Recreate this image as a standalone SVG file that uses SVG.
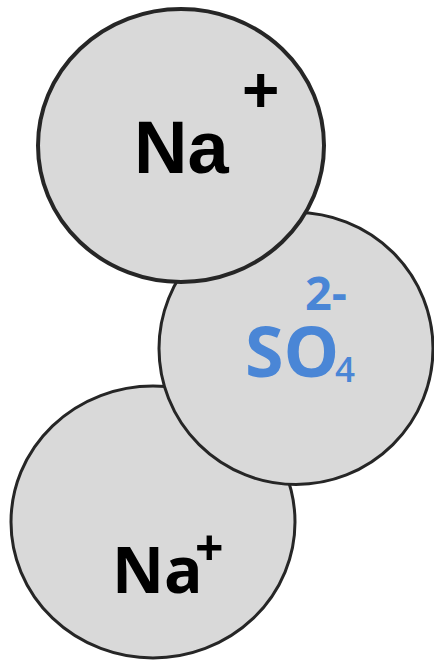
<svg xmlns="http://www.w3.org/2000/svg" width="434" height="660" viewBox="0 0 434 660">
<style>
.ion{fill:#d9d9d9;stroke:#262626}
.na1{font-family:"Liberation Sans",Arial,sans-serif;font-weight:bold;fill:#000}
.na2{font-family:"Open Sans",sans-serif;font-weight:bold;fill:#000}
.so{font-family:"Open Sans",sans-serif;font-weight:bold;fill:#4a86d6}
</style>
<rect width="434" height="660" fill="#fff"/>
<g id="na-bottom">
<ellipse class="ion" cx="153" cy="522" rx="142" ry="136" stroke-width="3"/>
<text class="na2" x="112" y="593" font-size="64">Na<tspan x="195" y="566" font-size="50">+</tspan></text>
</g>
<g id="so4">
<ellipse class="ion" cx="296" cy="348.5" rx="137" ry="136" stroke-width="3"/>
<text class="so" x="245" y="377" font-size="70">SO<tspan x="335" y="382" font-size="35" font-weight="600">4</tspan><tspan x="305" y="310" font-size="47">2-</tspan></text>
</g>
<g id="na-top">
<ellipse class="ion" cx="181" cy="145.5" rx="143" ry="136.5" stroke-width="4"/>
<text class="na1" x="134" y="173" font-size="74">Na<tspan x="242" y="112" font-size="64">+</tspan></text>
</g>
</svg>
